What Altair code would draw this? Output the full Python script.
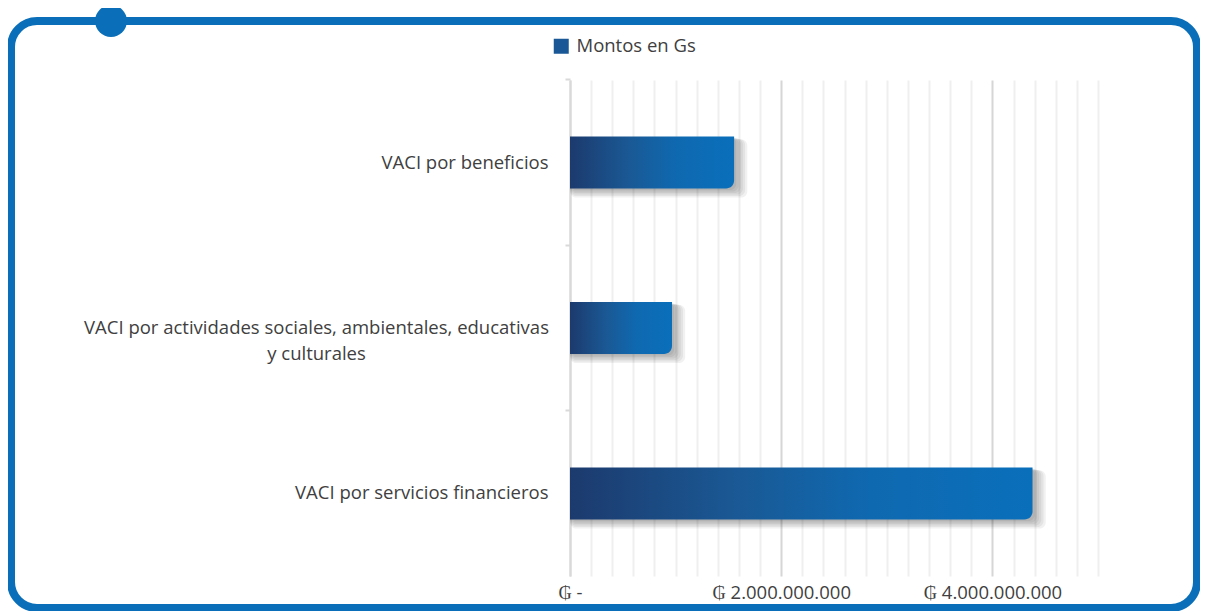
import altair as alt
import pandas as pd

categories = [
    "VACI por beneficios",
    "VACI por actividades sociales, ambientales, educativas y culturales",
    "VACI por servicios financieros",
]
values = [1554000000, 966000000, 4380000000]
series_name = "Montos en Gs"
x_ticks = [i * 200000000 for i in range(26)]

df = pd.DataFrame({"cat": categories, "value": values, "zero": [0, 0, 0], "serie": [series_name] * 3})

FONT = "Open Sans"
TXT = "#404040"
BLUE = "#0a6fb8"
FS = 18.5
long_cat = categories[1]

label_expr = (
    f"datum.value == '{long_cat}' ? "
    "['VACI por actividades sociales, ambientales, educativas', 'y culturales'] : datum.value"
)

x_label_expr = (
    "datum.value == 0 ? '\u20b2 -' : (datum.value % 2000000000 == 0 ? "
    "'\u20b2 ' + replace(format(datum.value, ',.0f'), regexp(',', 'g'), '.') : '')"
)

y_enc = alt.Y(
    "cat:N",
    sort=categories,
    scale=alt.Scale(paddingInner=0.685, paddingOuter=0.341),
    axis=alt.Axis(
        title=None,
        labelExpr=label_expr,
        labelFont=FONT,
        labelFontSize=FS,
        labelColor=TXT,
        labelLimit=700,
        labelLineHeight=26,
        labelAlign={"condition": {"test": f"datum.value == '{long_cat}'", "value": "center"}, "value": "right"},
        labelPadding={"condition": {"test": f"datum.value == '{long_cat}'", "value": 249}, "value": 17},
        domainColor="#d9d9d9",
        domainWidth=2,
        tickColor="#d9d9d9",
        tickWidth=2,
        tickSize=5,
        bandPosition=-1.09,
        grid=False,
    ),
)

x_enc = alt.X(
    "zero:Q",
    scale=alt.Scale(domain=[0, 5000000000], nice=False, zero=True),
    axis=alt.Axis(
        title=None,
        values=x_ticks,
        labelExpr=x_label_expr,
        labelFont=FONT,
        labelFontSize=FS,
        labelColor=TXT,
        labelPadding=7,
        labelFlush=False,
        labelOverlap=False,
        domain=False,
        ticks=False,
        grid=True,
        gridColor={"condition": {"test": "datum.value % 2000000000 == 0", "value": "#d6d6d6"}, "value": "#efefef"},
        gridWidth=2,
    ),
)

base = alt.Chart(df)

# legend carrier (invisible)
legend_layer = base.mark_bar(opacity=0, size=52).encode(
    x=x_enc,
    x2="value:Q",
    y=y_enc,
    color=alt.Color(
        "serie:N",
        scale=alt.Scale(range=["#1a5796"]),
        legend=alt.Legend(
            orient="none",
            legendX=-18,
            legendY=-43,
            title=None,
            symbolType="square",
            symbolSize=225,
            symbolOpacity=1,
            symbolStrokeWidth=0,
            labelFont=FONT,
            labelFontSize=FS,
            labelColor=TXT,
            labelOffset=6,
            padding=0,
        ),
    ),
)

shadows = []
for k in range(1, 7):
    shadows.append(
        base.mark_bar(
            color="#000000",
            opacity=0.055,
            size=52 + k,
            yOffset=k * 1.0,
            x2Offset=k * 2.2,
            cornerRadius=6,
        ).encode(x=x_enc, x2="value:Q", y=y_enc)
    )

gradient = {
    "gradient": "linear",
    "x1": 0, "x2": 1, "y1": 0, "y2": 0,
    "stops": [
        {"offset": 0, "color": "#1c3a6d"},
        {"offset": 0.35, "color": "#1a5894"},
        {"offset": 0.65, "color": "#0f69b0"},
        {"offset": 1, "color": "#0a6fbb"},
    ],
}

bars = base.mark_bar(color=gradient, size=52, cornerRadiusBottomRight=8).encode(
    x=x_enc, x2="value:Q", y=y_enc
)

# decorative frame
deco = alt.Chart(pd.DataFrame({"d": [0]}))
frame = deco.mark_rect(filled=False, stroke=BLUE, strokeWidth=8, cornerRadius=26).encode(
    x=alt.value(-559), x2=alt.value(627), y=alt.value(-59), y2=alt.value(528)
)
dot = deco.mark_circle(size=1018, opacity=1, color=BLUE).encode(
    x=alt.value(-459), y=alt.value(-59)
)

chart = alt.layer(frame, dot, legend_layer, *shadows, bars).properties(
    width=528,
    height=496,
    padding={"left": 562, "top": 72, "right": 102, "bottom": 35},
    autosize=alt.AutoSizeParams(type="none"),
).configure_view(stroke=None)

chart.save("out.html", embed_options={"renderer": "svg", "actions": False})
